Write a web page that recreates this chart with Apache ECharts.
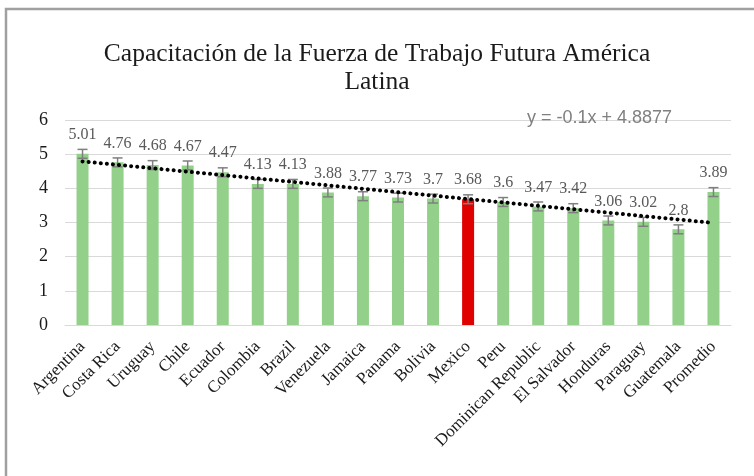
<!DOCTYPE html>
<html>
<head>
<meta charset="utf-8">
<script src="https://cdn.jsdelivr.net/npm/echarts@6/dist/echarts.min.js"></script>
<style>
  html, body { margin: 0; padding: 0; background: #fff; }
  #chart { width: 754px; height: 476px; }
</style>
</head>
<body>
<div id="chart"></div>
<script>
// datos
const countries = ['Argentina', 'Costa Rica', 'Uruguay', 'Chile', 'Ecuador', 'Colombia', 'Brazil',
  'Venezuela', 'Jamaica', 'Panama', 'Bolivia', 'Mexico', 'Peru', 'Dominican Republic',
  'El Salvador', 'Honduras', 'Paraguay', 'Guatemala', 'Promedio'];
const scores = [5.01, 4.76, 4.68, 4.67, 4.47, 4.13, 4.13, 3.88, 3.77, 3.73, 3.7, 3.68, 3.6,
  3.47, 3.42, 3.06, 3.02, 2.8, 3.89];
const errorSize = [0.13, 0.13, 0.13, 0.13, 0.13, 0.13, 0.13, 0.13, 0.13, 0.13, 0.13, 0.13, 0.13,
  0.13, 0.13, 0.13, 0.13, 0.13, 0.13];
const highlighted = 'Mexico';
// tendencia lineal y = -0.1x + 4.8877 (x = 1 .. 19)
const trendPoints = [[0, 4.7877], [18, 2.9877]];
const trendLabel = 'y = -0.1x + 4.8877';
const yTicks = [0, 1, 2, 3, 4, 5, 6];

const green = '#93d18b';
const red = '#e00000';

const chart = echarts.init(document.getElementById('chart'));

const barData = scores.map((v, i) => ({
  value: v,
  itemStyle: { color: countries[i] === highlighted ? red : green },
}));

const errData = scores.map((v, i) => [i, v - errorSize[i], v + errorSize[i]]);

chart.setOption({
  animation: false,
  title: {
    text: 'Capacitación de la Fuerza de Trabajo Futura América\nLatina',
    left: 'center',
    top: 35,
    textStyle: {
      fontFamily: 'Liberation Serif',
      fontSize: 25.5,
      fontWeight: 'normal',
      color: '#1a1a1a',
      lineHeight: 28,
    },
  },
  grid: { left: 65, right: 23, top: 120, bottom: 151 },
  xAxis: {
    type: 'category',
    data: countries,
    axisTick: { show: false },
    axisLine: { lineStyle: { color: '#d9d9d9', width: 1 } },
    axisLabel: {
      rotate: 45,
      interval: 0,
      margin: 19,
      fontFamily: 'Liberation Serif',
      fontSize: 17,
      color: '#1a1a1a',
    },
  },
  yAxis: {
    type: 'value',
    min: yTicks[0],
    max: yTicks[yTicks.length - 1],
    interval: 1,
    axisLine: { show: false },
    axisTick: { show: false },
    splitLine: { lineStyle: { color: '#d9d9d9', width: 1 } },
    axisLabel: {
      margin: 17,
      fontFamily: 'Liberation Serif',
      fontSize: 18,
      color: '#1a1a1a',
    },
  },
  graphic: [
    {
      type: 'rect',
      shape: { x: 6, y: 9, width: 900, height: 700 },
      style: { fill: 'none', stroke: '#a0a0a0', lineWidth: 2.5 },
      z: 0,
    },
    {
      type: 'text',
      x: 527,
      y: 118,
      style: {
        text: trendLabel,
        fontFamily: 'Liberation Sans',
        fontSize: 18,
        fill: '#808080',
        verticalAlign: 'middle',
      },
      z: 10,
    },
  ],
  series: [
    {
      type: 'bar',
      data: barData,
      barWidth: 12,
      label: {
        show: true,
        position: 'top',
        distance: 11,
        fontFamily: 'Liberation Serif',
        fontSize: 16,
        color: '#595959',
      },
      z: 2,
    },
    {
      type: 'custom',
      data: errData,
      z: 3,
      renderItem: function (params, api) {
        const x = api.value(0);
        const lo = api.coord([x, api.value(1)]);
        const hi = api.coord([x, api.value(2)]);
        const w = 5;
        const st = { stroke: '#7f7f7f', lineWidth: 1.5 };
        return {
          type: 'group',
          children: [
            { type: 'line', shape: { x1: lo[0], y1: lo[1], x2: hi[0], y2: hi[1] }, style: st },
            { type: 'line', shape: { x1: lo[0] - w, y1: lo[1], x2: lo[0] + w, y2: lo[1] }, style: st },
            { type: 'line', shape: { x1: hi[0] - w, y1: hi[1], x2: hi[0] + w, y2: hi[1] }, style: st },
          ],
        };
      },
    },
    {
      type: 'line',
      data: trendPoints,
      symbol: 'none',
      z: 4,
      lineStyle: {
        color: '#000',
        width: 4,
        type: [0.1, 6],
        cap: 'round',
      },
    },
  ],
});
</script>
</body>
</html>
